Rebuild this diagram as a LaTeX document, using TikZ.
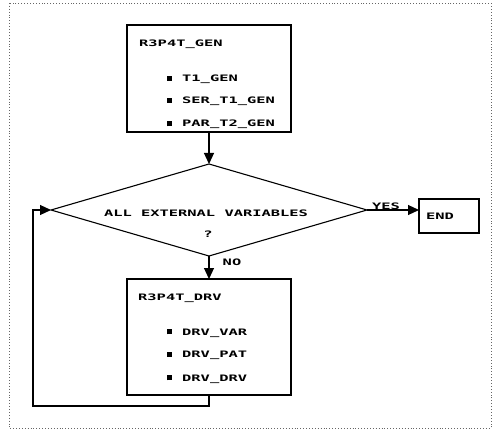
\documentclass[tikz,border=0pt]{standalone}
\usepackage{fontspec}
\newfontfamily\plotfont[FakeStretch=1.73]{DejaVu Sans Mono Bold}
\usetikzlibrary{arrows.meta,shapes.geometric}
\tikzset{
  box/.style={draw, line width=1.2pt, inner sep=0pt, outer sep=0pt},
  decision/.style={draw, diamond, line width=1.1pt, inner sep=0pt, outer sep=0pt, aspect=3.43},
  txt/.style={inner sep=0pt, font=\plotfont\fontsize{8.9pt}{10pt}\selectfont},
  lbl/.style={txt, anchor=base west},
  flow/.style={line width=1.1pt, -{Triangle[length=11pt,width=10pt]}},
  frame/.style={draw=black!60, dotted, line width=0.9pt}
}
\newcommand{\itm}[1]{\llap{\rule[0.6pt]{5pt}{5pt}\hspace{10pt}}#1}
\begin{document}
\begin{tikzpicture}[x=1pt,y=-1pt]
\useasboundingbox (0,0) rectangle (497,430);
\draw[frame] (9,3) rectangle (491,428);

% boxes
\node[box, minimum width=164pt, minimum height=107pt] (gen) at (209,78.5) {};
\node[box, minimum width=164pt, minimum height=116pt] (drv) at (209,337) {};
\node[box, minimum width=60pt, minimum height=34pt] (endb) at (449,216) {};
\node[decision, minimum width=316pt, minimum height=92pt] (diam) at (209,210) {};

% texts of GEN box
\node[lbl] (genT) at (139,47) {R3P4T\_GEN};
\node[lbl] (gen1) at (182,81.5) {\itm{T1\_GEN}};
\node[lbl] (gen2) at (182,103.5) {\itm{SER\_T1\_GEN}};
\node[lbl] (gen3) at (182,127) {\itm{PAR\_T2\_GEN}};

% texts of DRV box
\node[lbl] (drvT) at (138,300) {R3P4T\_DRV};
\node[lbl] (drv1) at (182,335) {\itm{DRV\_VAR}};
\node[lbl] (drv2) at (182,357.5) {\itm{DRV\_PAT}};
\node[lbl] (drv3) at (182,381) {\itm{DRV\_DRV}};

% decision texts
\node[txt, anchor=base] (q1) at (206,216.5) {ALL EXTERNAL VARIABLES};
\node[txt, anchor=base] (q2) at (208,237.5) {?};
\node[txt, anchor=base] (endT) at (440,219) {END};

% labels
\node[txt, anchor=base] (yes) at (386,209) {YES};
\node[txt, anchor=base] (no) at (232,265) {NO};

% connectors
\coordinate (loopc) at (33,406);
\draw[flow] (gen.south) -- (diam.north);
\draw[flow] (diam.south) -- (drv.north);
\draw[flow] (diam.east) -- (diam.east -| endb.west);
\draw[flow] (drv.south) -- (drv.south |- loopc) -- (loopc) |- (diam.west);
\end{tikzpicture}
\end{document}
